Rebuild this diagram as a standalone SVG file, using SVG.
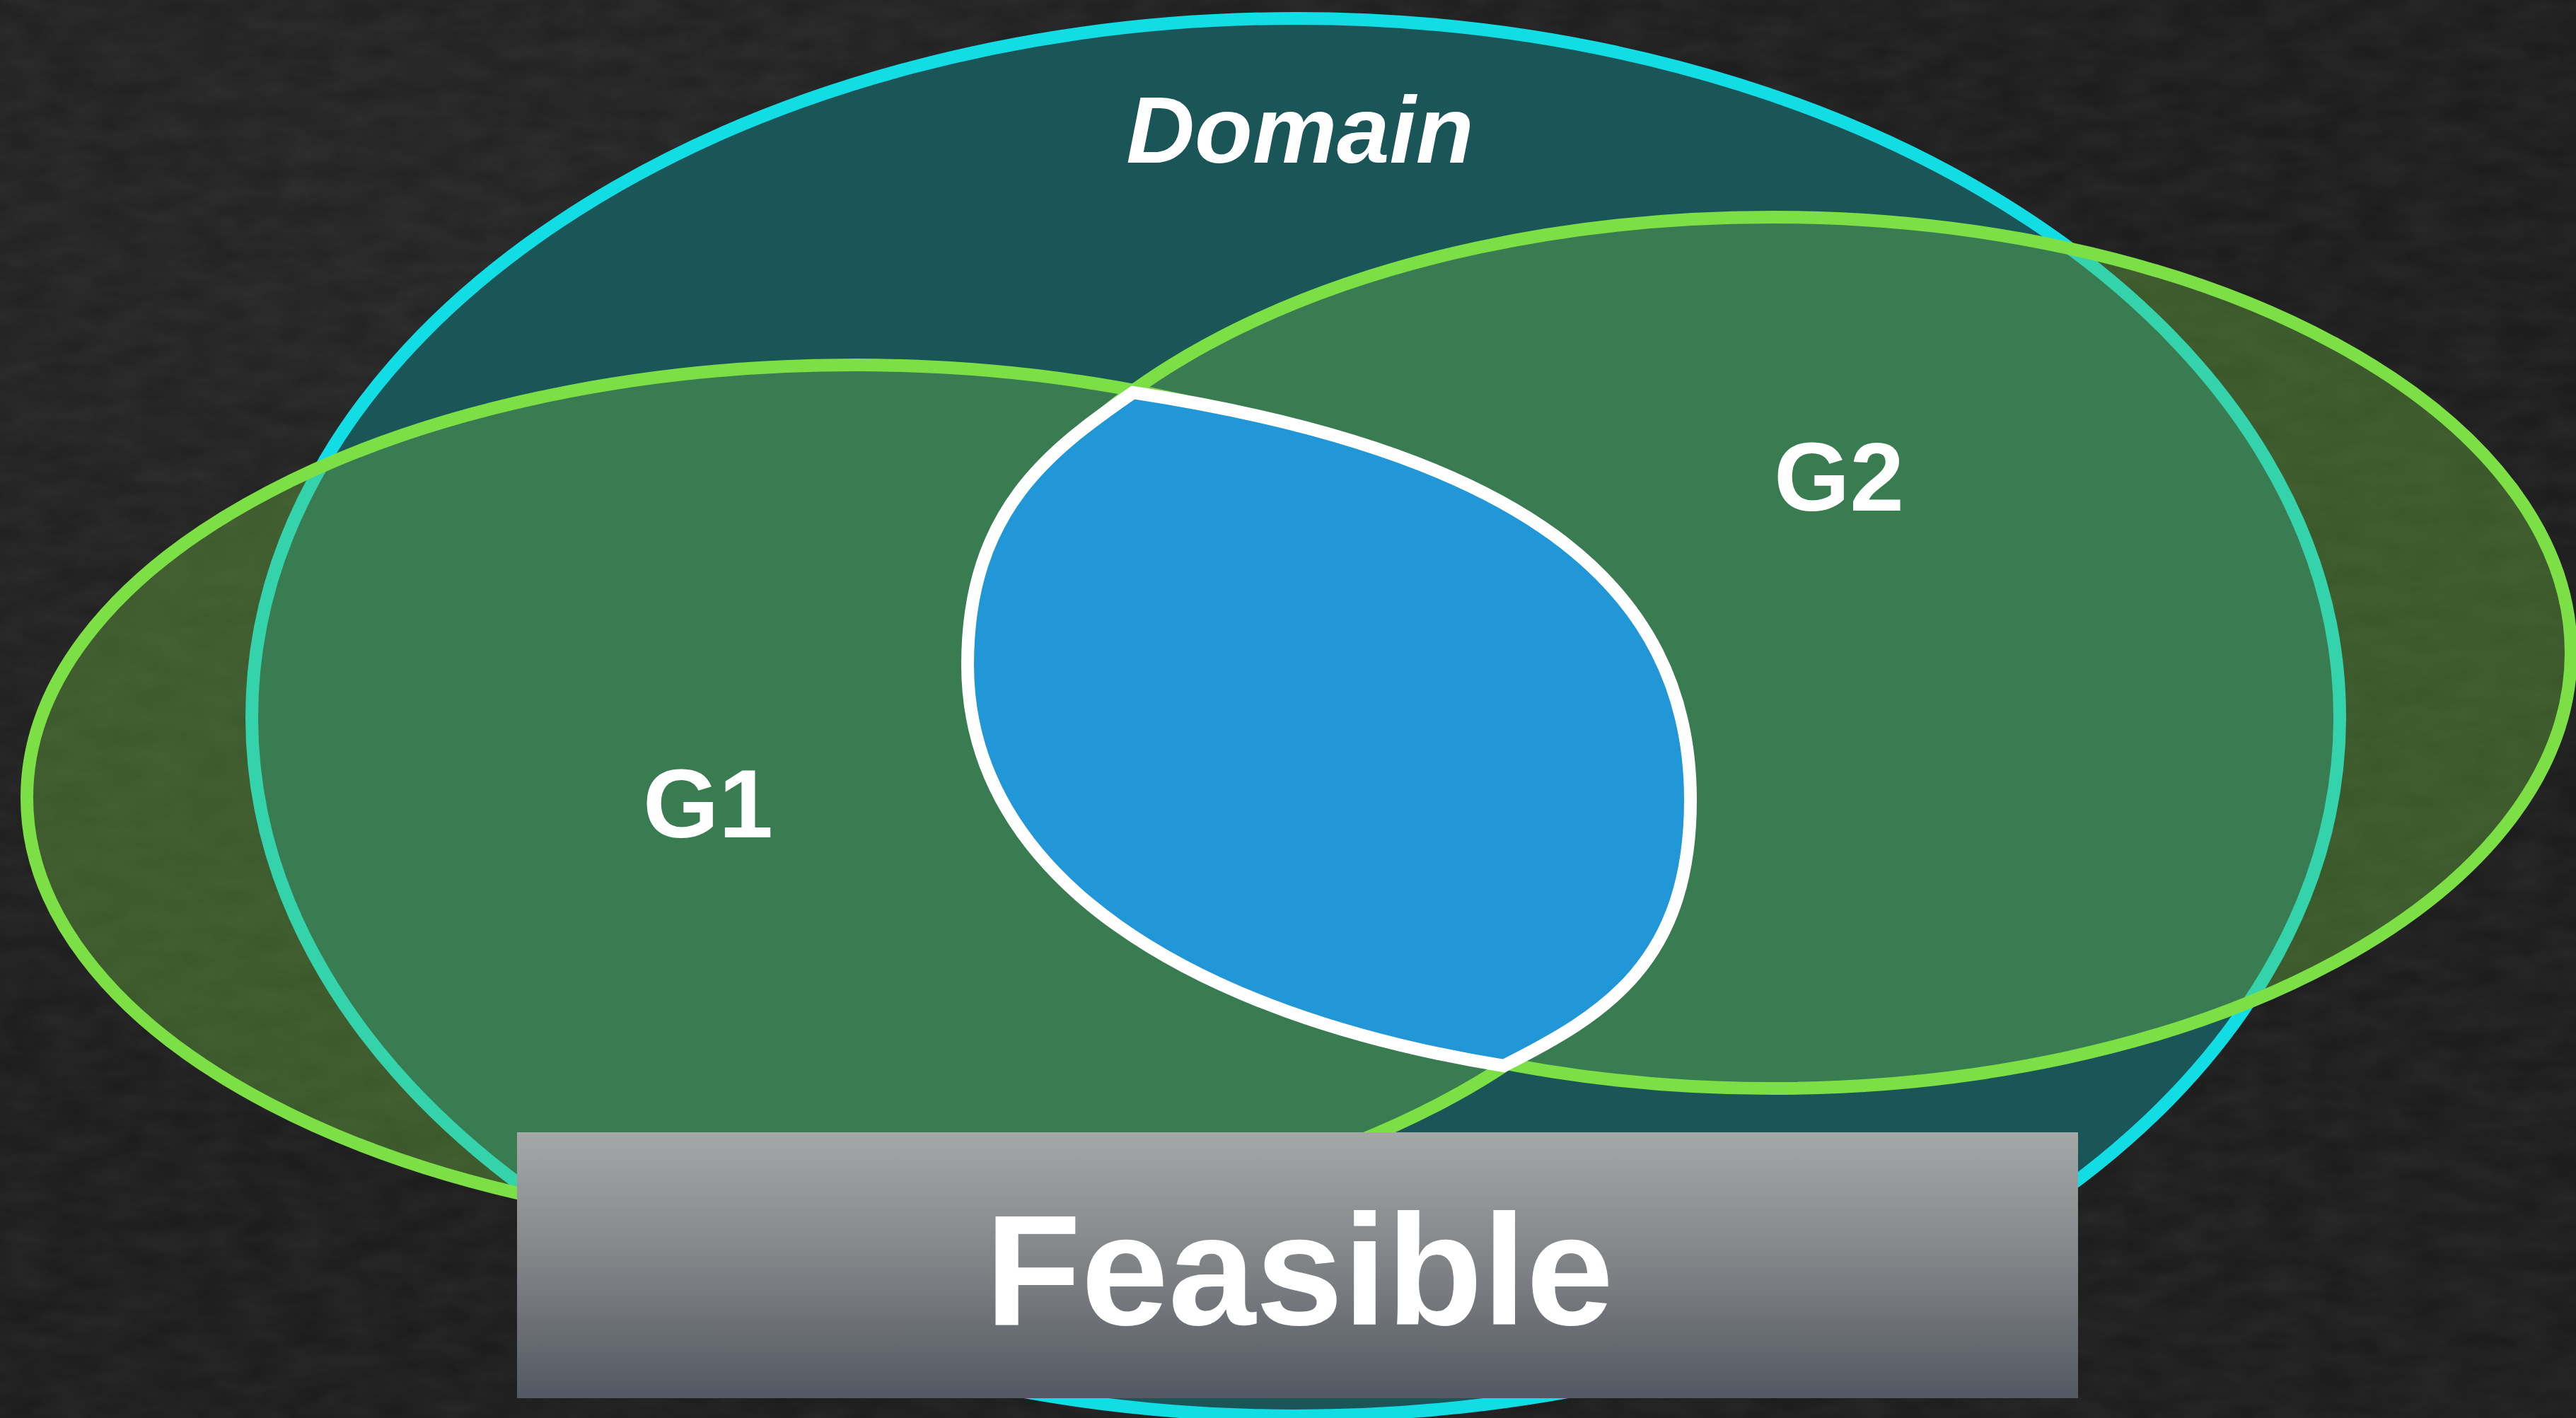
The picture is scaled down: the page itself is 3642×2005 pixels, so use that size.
<svg xmlns="http://www.w3.org/2000/svg" width="3642" height="2005" viewBox="0 0 3642 2005">
  <style>
    .label { font-family: "Liberation Sans", Arial, Helvetica, sans-serif; font-weight: bold; fill: #ffffff; text-anchor: middle; }
    .set { fill: #73c344; fill-opacity: 0.36; stroke: #7ddf46; stroke-width: 18; }
    .region { fill: #2197d8; stroke: #ffffff; stroke-width: 18; stroke-linejoin: miter; }
  </style>
  <defs>
    <linearGradient id="boxFill" x1="0" y1="0" x2="0" y2="1">
      <stop offset="0" stop-color="#a5a8a7"/>
      <stop offset="0.5" stop-color="#808386"/>
      <stop offset="1" stop-color="#535862"/>
    </linearGradient>
    <radialGradient id="boardGlow" cx="0.2" cy="0.2" r="0.6">
      <stop offset="0" stop-color="#252525"/>
      <stop offset="1" stop-color="#1d1d1d"/>
    </radialGradient>
    <filter id="chalk" x="0" y="0" width="100%" height="100%">
      <feTurbulence type="fractalNoise" baseFrequency="0.015 0.035" numOctaves="3" seed="7" result="n"/>
      <feColorMatrix in="n" type="matrix" values="0 0 0 0 1  0 0 0 0 1  0 0 0 0 1  0 0 0 0.07 -0.015"/>
    </filter>
  </defs>

  <!-- chalkboard backdrop -->
  <rect width="3642" height="2005" fill="url(#boardGlow)"/>
  <rect width="3642" height="2005" filter="url(#chalk)"/>

  <!-- domain set -->
  <g id="domain">
    <ellipse cx="1832" cy="1014" rx="1476" ry="988" fill="#1a5558" stroke="#13dde4" stroke-width="18"/>
    <text class="label" x="1838" y="230" font-size="134" font-style="italic">Domain</text>
  </g>

  <!-- constraint sets -->
  <g id="g1">
    <ellipse class="set" cx="1208" cy="1128" rx="1170" ry="612"/>
    <text class="label" x="1001" y="1184" font-size="138">G1</text>
  </g>
  <g id="g2">
    <ellipse class="set" cx="2505" cy="923" rx="1130" ry="616"/>
    <text class="label" x="2600" y="722" font-size="138">G2</text>
  </g>

  <!-- feasible region where G1 and G2 overlap -->
  <g id="feasible-region">
    <path class="region" d="M1602,555
      C2142,638 2390,821 2390,1131
      C2390,1361 2269,1435 2126,1507
      C1682,1435 1368,1240 1368,940
      C1368,720 1487,635 1602,555 Z"/>
  </g>

  <!-- caption banner -->
  <g id="feasible-label">
    <rect x="731" y="1601" width="2207" height="376" fill="url(#boxFill)"/>
    <text class="label" x="1837" y="1873" font-size="222">Feasible</text>
  </g>

  <!-- connectors: none in this figure -->
  <g id="connectors"/>
</svg>
